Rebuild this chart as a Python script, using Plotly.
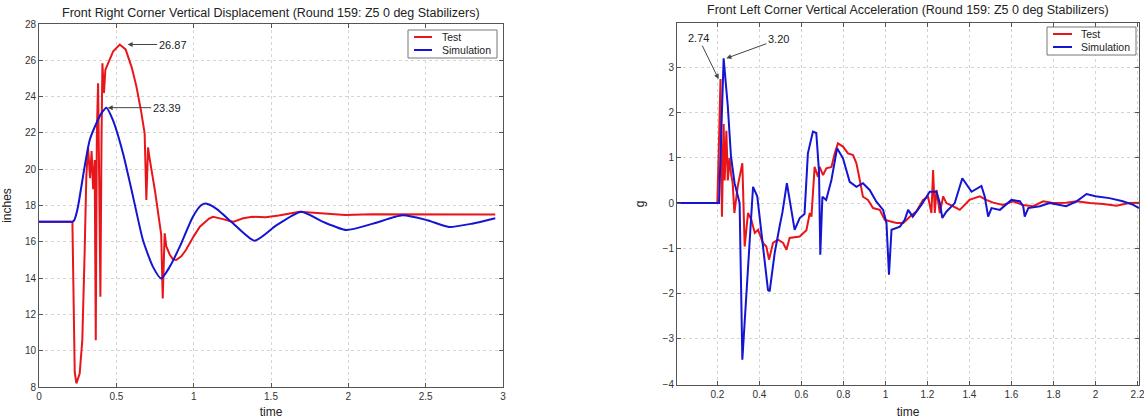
import plotly.graph_objects as go

W, H = 1144, 419

# ---------------- data ----------------
# Left: Front Right Corner Vertical Displacement (inches vs time)
disp_test_t = [0, 0.216, 0.231, 0.242, 0.263, 0.28, 0.295, 0.306, 0.317, 0.33, 0.34, 0.35,
               0.36, 0.367, 0.374, 0.382, 0.389, 0.397, 0.404, 0.41, 0.42, 0.429, 0.45, 0.48,
               0.522, 0.56, 0.6, 0.63, 0.66, 0.683, 0.694, 0.705, 0.715, 0.75, 0.78, 0.79,
               0.80, 0.8125, 0.823, 0.845, 0.866, 0.887, 0.92, 0.95, 1.0, 1.04, 1.10, 1.125,
               1.19, 1.254, 1.32, 1.38, 1.465, 1.55, 1.685, 1.8, 1.98, 2.15, 2.33, 2.5, 2.63,
               2.8, 2.95]
disp_test_v = [17.1, 17.1, 8.8, 8.2, 8.74, 10.58, 15.4, 19.6, 21.24, 19.5, 21.0, 18.9,
               20.5, 10.58, 22.0, 24.74, 19.5, 12.97, 21.5, 25.84, 24.2, 25.47, 25.9, 26.5,
               26.87, 26.6, 25.6, 24.55, 23.2, 21.98, 18.3, 21.2, 20.6, 18.8, 17.0, 16.4,
               12.88, 16.47, 15.75, 15.3, 15.03, 15.0, 15.2, 15.55, 16.3, 16.83, 17.28, 17.38,
               17.25, 17.1, 17.3, 17.38, 17.35, 17.45, 17.66, 17.6, 17.48, 17.52, 17.52, 17.5, 17.5,
               17.5, 17.5]
disp_sim_t = [0, 0.1, 0.2, 0.215, 0.225, 0.237, 0.252, 0.295, 0.328, 0.371, 0.405, 0.436,
              0.478, 0.543, 0.608, 0.672, 0.737, 0.79, 0.845, 0.91, 0.995, 1.05, 1.085, 1.15,
              1.254, 1.394, 1.534, 1.696, 1.836, 1.987, 2.16, 2.35, 2.51, 2.65, 2.8, 2.95]
disp_sim_v = [17.1, 17.1, 17.1, 17.1, 17.15, 17.4, 17.93, 20.14, 21.61, 22.53, 23.1, 23.39,
              22.7, 20.88, 18.49, 16.1, 14.62, 13.98, 14.62, 15.73, 17.38, 18.03, 18.1, 17.8,
              17.02, 16.06, 16.9, 17.66, 17.1, 16.65, 17.0, 17.46, 17.19, 16.82, 17.0, 17.3]

# Right: Front Left Corner Vertical Acceleration (g vs time)
acc_test_t = [0.008, 0.2, 0.208, 0.215, 0.222, 0.23, 0.235, 0.243, 0.25, 0.258, 0.265, 0.273,
              0.281, 0.297, 0.319, 0.33, 0.346, 0.362, 0.378, 0.394, 0.417, 0.433, 0.446, 0.465,
              0.489, 0.513, 0.529, 0.544, 0.592, 0.624, 0.64, 0.648, 0.663, 0.679, 0.687, 0.703,
              0.719, 0.743, 0.759, 0.774, 0.798, 0.822, 0.846, 0.862, 0.878, 0.893, 0.917, 0.941,
              0.973, 0.997, 1.021, 1.053, 1.085, 1.116, 1.148, 1.179, 1.203, 1.219, 1.227, 1.235,
              1.243, 1.259, 1.275, 1.29, 1.322, 1.354, 1.40, 1.449, 1.48, 1.513, 1.56, 1.608,
              1.655, 1.703, 1.751, 1.798, 1.86, 1.91, 1.973, 2.036, 2.1, 2.16, 2.207]
acc_test_v = [0, 0, 1.4, 2.74, -0.3, 1.75, 0.5, 1.6, 0.5, 1.0, 0.65, 0.44,
              -0.22, 0.37, 0.88, -0.96, -0.22, -0.37, -0.66, -0.59, -0.88, -0.96, -1.25, -0.88,
              -0.81, -0.88, -1.03, -0.77, -0.74, -0.6, -0.22, -0.3, 0.8, 0.58, 0.8, 0.62,
              0.77, 0.8, 1.1, 1.32, 1.25, 1.1, 1.06, 0.88, 0.51, 0.14, 0.07, -0.11,
              -0.15, -0.37, -0.4, -0.44, -0.44, -0.3, -0.18, 0.07, 0.14, -0.22, 0.73, -0.22,
              0.29, -0.22, 0.15, 0.0, -0.07, -0.15, 0.07, 0.15, 0.07, 0.01, -0.04, 0.04,
              -0.04, -0.07, 0.04, 0.0, 0.01, 0.04, 0.0, -0.02, -0.06, 0.0, 0.01]
acc_sim_t = [0.008, 0.208, 0.23, 0.25, 0.265, 0.282, 0.298, 0.306, 0.319, 0.346, 0.37, 0.39,
             0.417, 0.441, 0.449, 0.473, 0.497, 0.51, 0.531, 0.552, 0.568, 0.592, 0.615, 0.631,
             0.655, 0.671, 0.684, 0.69, 0.70, 0.718, 0.743, 0.77, 0.798, 0.83, 0.862, 0.893,
             0.925, 0.957, 0.989, 1.005, 1.017, 1.029, 1.069, 1.092, 1.108, 1.13, 1.171, 1.211,
             1.243, 1.259, 1.271, 1.29, 1.33, 1.366, 1.41, 1.457, 1.473, 1.489, 1.505, 1.545,
             1.6, 1.64, 1.656, 1.663, 1.68, 1.735, 1.782, 1.86, 1.91, 1.957, 2.0, 2.066,
             2.13, 2.18, 2.207]
acc_sim_v = [0, 0, 3.2, 2.13, 1.03, 0.44, 0.15, 0.0, -3.46, -1.55, 0.36, 0.15,
             -0.96, -1.92, -1.95, -1.1, -0.5, -0.2, 0.44, -0.15, -0.59, -0.33, -0.24, 1.1,
             1.58, 1.55, 0.7, -1.14, 0.14, 0.07, 0.51, 1.21, 0.99, 0.47, 0.36, 0.44,
             0.29, 0.03, -0.15, -0.44, -1.58, -0.59, -0.52, -0.37, -0.15, -0.3, -0.04, 0.25,
             0.25, 0.0, -0.33, -0.19, 0.0, 0.55, 0.25, 0.38, 0.14, -0.3, -0.11, -0.15,
             0.07, 0.04, -0.07, -0.3, -0.11, -0.07, 0.0, -0.07, 0.04, 0.2, 0.15, 0.11,
             0.04, -0.04, -0.11]

series_names = ["Test", "Simulation"]
titles = ["Front Right Corner Vertical Displacement (Round 159: Z5 0 deg Stabilizers)",
          "Front Left Corner Vertical Acceleration (Round 159: Z5 0 deg Stabilizers)"]
disp_peaks = [26.87, 23.39]
acc_peaks = [2.74, 3.20]

RED = "#e8161b"
BLUE = "#1414d2"
FONT = "Arial, Liberation Sans, sans-serif"

fig = go.Figure()
fig.add_trace(go.Scatter(x=disp_test_t, y=disp_test_v, mode="lines", name="Test",
                         line=dict(color=RED, width=2), xaxis="x", yaxis="y", showlegend=False))
fig.add_trace(go.Scatter(x=disp_sim_t, y=disp_sim_v, mode="lines", name="Simulation",
                         line=dict(color=BLUE, width=2, shape="spline", smoothing=0.6),
                         xaxis="x", yaxis="y", showlegend=False))
fig.add_trace(go.Scatter(x=acc_test_t, y=acc_test_v, mode="lines", name="Test",
                         line=dict(color=RED, width=2), xaxis="x2", yaxis="y2", showlegend=False))
fig.add_trace(go.Scatter(x=acc_sim_t, y=acc_sim_v, mode="lines", name="Simulation",
                         line=dict(color=BLUE, width=2), xaxis="x2", yaxis="y2", showlegend=False))


def px(x):
    return x / W


def py(y):
    return 1 - y / H


axis_common = dict(showline=True, linecolor="#555", linewidth=1, mirror="ticks",
                   ticks="inside", ticklen=4, tickcolor="#555", showgrid=True,
                   gridcolor="#d4d4d4", griddash="dot", gridwidth=1, zeroline=False,
                   tickfont=dict(family=FONT, size=10, color="#333"), automargin=False,
                   ticklabeloverflow="allow",
                   title_font=dict(family=FONT, size=12, color="#222"))

fig.update_layout(
    width=W, height=H, margin=dict(l=0, r=0, t=0, b=0),
    paper_bgcolor="white", plot_bgcolor="white",
    font=dict(family=FONT, size=10, color="#222"),
    xaxis=dict(domain=[px(39), px(503)], range=[0, 3], dtick=0.5, tick0=0,
               title_text="time", anchor="y", **axis_common),
    yaxis=dict(domain=[py(387), py(24)], range=[8, 28], dtick=2, tick0=8,
               title_text="inches", anchor="x", **axis_common),
    xaxis2=dict(domain=[px(677), px(1139)], range=[0.008, 2.207], dtick=0.2, tick0=0,
                title_text="time", anchor="y2", **axis_common),
    yaxis2=dict(domain=[py(385), py(23)], range=[-4.02, 3.98], dtick=1, tick0=0,
                title_text="g", anchor="x2", **axis_common),
)

ann = []
# subplot titles
ann.append(dict(text=titles[0], x=px(271), y=py(13), xref="paper", yref="paper",
                xanchor="center", yanchor="middle", showarrow=False,
                font=dict(family=FONT, size=12.5, color="#222")))
ann.append(dict(text=titles[1], x=px(908), y=py(10), xref="paper", yref="paper",
                xanchor="center", yanchor="middle", showarrow=False,
                font=dict(family=FONT, size=12.5, color="#222")))
# peak labels
arrow = dict(showarrow=True, arrowhead=2, arrowsize=1, arrowwidth=1, arrowcolor="#444",
             font=dict(family=FONT, size=11, color="#222"))
ann.append(dict(text=f"{disp_peaks[0]:.2f}", x=0.573, y=disp_peaks[0], xref="x", yref="y",
                ax=45, ay=0, **arrow))
ann.append(dict(text=f"{disp_peaks[1]:.2f}", x=0.444, y=disp_peaks[1], xref="x", yref="y",
                ax=59, ay=0, **arrow))
ann.append(dict(text=f"{acc_peaks[0]:.2f}", x=0.206, y=acc_peaks[0], xref="x2", yref="y2",
                ax=-20, ay=-41, **arrow))
ann.append(dict(text=f"{acc_peaks[1]:.2f}", x=0.243, y=acc_peaks[1], xref="x2", yref="y2",
                ax=52, ay=-19, **arrow))

shapes = []
# manual legends (box, line samples, labels)
for (bx0, by0, bx1, by1, lx0, lx1, tx, ly) in [
        (408, 30, 497, 58, 414, 432, 440, (37, 50)),
        (1047, 27, 1136, 55, 1053, 1072, 1079, (34, 47))]:
    shapes.append(dict(type="rect", xref="paper", yref="paper", x0=px(bx0), x1=px(bx1),
                       y0=py(by1), y1=py(by0), line=dict(color="#777", width=1),
                       fillcolor="white", layer="above"))
    for name, col, yy in zip(series_names, [RED, BLUE], ly):
        shapes.append(dict(type="line", xref="paper", yref="paper", x0=px(lx0), x1=px(lx1),
                           y0=py(yy), y1=py(yy), line=dict(color=col, width=2), layer="above"))
        ann.append(dict(text=name, x=px(tx), y=py(yy), xref="paper", yref="paper",
                        xanchor="left", yanchor="middle", showarrow=False,
                        font=dict(family=FONT, size=10.5, color="#222")))

fig.update_layout(annotations=ann, shapes=shapes)
fig.write_html("out.html")
